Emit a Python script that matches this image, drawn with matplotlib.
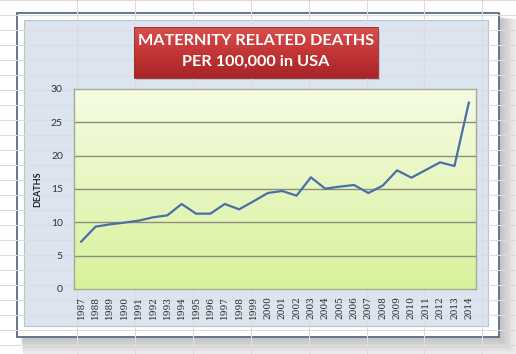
import numpy as np
import matplotlib.pyplot as plt
from matplotlib.patches import Rectangle
from matplotlib.colors import LinearSegmentedColormap

years = [str(y) for y in range(1987, 2015)]
deaths = [7.1, 9.35, 9.7, 9.95, 10.25, 10.75, 11.05, 12.75, 11.3, 11.3,
          12.75, 11.95, 13.15, 14.4, 14.7, 14.0, 16.75, 15.05, 15.35, 15.6,
          14.4, 15.5, 17.8, 16.7, 17.85, 19.0, 18.45, 27.95]
yticks = [0, 5, 10, 15, 20, 25, 30]

W, H = 516, 354
fig = plt.figure(figsize=(W / 100, H / 100), dpi=100)
fig.patch.set_facecolor('white')

# background: spreadsheet, frame, panel, title box (pixel coords)
bg = fig.add_axes([0, 0, 1, 1], zorder=0)
bg.set_xlim(0, W)
bg.set_ylim(H, 0)
bg.axis('off')

for x in [77, 135, 193, 251, 309, 367, 424, 482]:
    bg.plot([x, x], [0, H], color='#dcdcdc', lw=0.8)
for y in range(0, H, 15):
    bg.plot([0, W], [y, y], color='#dcdcdc', lw=0.8)

# drop shadow
for i in range(12):
    bg.add_patch(Rectangle((20 + i * 0.3, 16 + i * 0.3), 481 + i * 1.4, 323 + i * 1.4,
                           facecolor='#505050', edgecolor='none', alpha=0.03))

bg.add_patch(Rectangle((17, 13), 482, 324, facecolor='white', edgecolor='#5a6a80', lw=1.3))
bg.add_patch(Rectangle((24, 20), 464, 306, facecolor='#dce4f0', edgecolor='#b8c4d6', lw=0.8))

# title box
bg.add_patch(Rectangle((136, 29), 244, 51, facecolor='#808080', edgecolor='none', alpha=0.35))
red = LinearSegmentedColormap.from_list('red', ['#d9504e', '#c33535', '#a82528'])
grad = np.linspace(0, 1, 64).reshape(-1, 1)
bg.imshow(grad, cmap=red, extent=[134, 378, 78, 27], aspect='auto', zorder=2)
bg.add_patch(Rectangle((134, 27), 244, 51, facecolor='none', edgecolor='#9a2a2a', lw=0.6, zorder=3))
bg.text(256, 41, 'MATERNITY RELATED DEATHS', color='white', fontsize=11.7,
        fontweight='bold', family='Lato', ha='center', va='center', zorder=4)
bg.text(256, 62, 'PER 100,000 in USA', color='white', fontsize=11.7,
        fontweight='bold', family='Lato', ha='center', va='center', zorder=4)

# plot area
ax = fig.add_axes([74 / W, (H - 289) / H, 402 / W, 200 / H], zorder=1)
green = LinearSegmentedColormap.from_list('green', ['#f5fbe2', '#d8f29c'])
ax.imshow(grad, cmap=green, extent=[0, 1, 0, 1], aspect='auto',
          transform=ax.transAxes, zorder=0)

x = np.arange(len(years))
ax.plot(x, deaths, color='#4a6fa8', lw=1.6, zorder=3)
ax.set_xlim(-0.5, len(years) - 0.5)
ax.set_ylim(0, 30)
ax.set_yticks(yticks)
for t in yticks[1:-1]:
    ax.axhline(t, color='#8a8e80', lw=1, zorder=1)

ax.set_xticks(x)
ax.set_xticklabels(years, rotation=90, family='DejaVu Serif', fontsize=6.5, color='#2a2a2a')
ax.tick_params(axis='x', length=0, pad=5)
ax.tick_params(axis='y', length=0, pad=8, labelsize=7.5, labelcolor='#333333')
for lab in ax.get_yticklabels():
    lab.set_family('Lato')

for s in ax.spines.values():
    s.set_color('#a4ab94')
    s.set_linewidth(1)

ax.set_ylabel('DEATHS', fontsize=6.5, fontweight='bold', family='Lato', color='#222222')
ax.yaxis.set_label_coords(-32 / 402, 0.5)

fig.savefig('out.png', dpi=100, facecolor='white')
